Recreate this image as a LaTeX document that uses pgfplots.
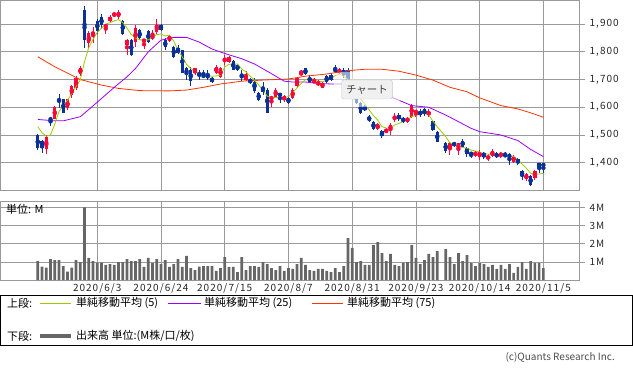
\documentclass[border=0pt]{standalone}
\usepackage{fontspec}
\setmainfont{Noto Sans CJK JP}
\newfontfamily\tickfont[LetterSpace=10]{Noto Sans CJK JP}
\usepackage{pgfplots}
\pgfplotsset{compat=1.18}
\usepackage{pgfplotstable}
\definecolor{upred}{HTML}{F50A3C}
\definecolor{dnblue}{HTML}{0A3296}
\definecolor{maA}{HTML}{99CC00}
\definecolor{maB}{HTML}{9900FF}
\definecolor{maC}{HTML}{FF3300}
\definecolor{gridc}{HTML}{999999}
\definecolor{volc}{HTML}{666666}
\newcommand{\dsl}{\kern1.1pt/\kern1.1pt}

\pgfplotstableread{
i o h l c
2 1449 1500 1432 1494
4 1558 1604 1556 1602
7 1596 1631 1590 1629
8 1644 1680 1634 1676
9 1671 1712 1662 1706
10 1720 1750 1712 1742
12 1830 1874 1812 1869
13 1861 1888 1833 1872
16 1890 1902 1866 1896
17 1911 1932 1904 1926
18 1929 1945 1925 1938
19 1926 1950 1920 1944
21 1824 1845 1788 1844
23 1837 1898 1818 1887
25 1838 1845 1810 1843
27 1850 1880 1844 1857
28 1872 1917 1865 1896
31 1840 1862 1834 1858
37 1724 1743 1715 1740
42 1724 1752 1719 1746
43 1710 1745 1707 1740
44 1770 1788 1752 1774
45 1764 1784 1758 1782
49 1698 1731 1695 1712
55 1628 1640 1602 1638
56 1635 1671 1632 1664
58 1626 1644 1620 1640
60 1632 1668 1628 1664
61 1676 1710 1671 1704
62 1719 1736 1716 1724
65 1688 1704 1686 1698
66 1680 1698 1676 1692
67 1671 1692 1668 1688
71 1724 1740 1719 1736
80 1520 1542 1518 1539
82 1510 1524 1506 1520
83 1518 1542 1500 1536
84 1554 1578 1548 1568
87 1548 1566 1542 1563
88 1566 1611 1563 1608
89 1580 1590 1565 1587
92 1572 1592 1566 1584
97 1448 1476 1428 1472
99 1448 1472 1428 1470
103 1425 1442 1422 1440
104 1422 1445 1410 1438
106 1416 1431 1407 1422
107 1424 1449 1419 1443
109 1428 1440 1416 1431
112 1404 1428 1400 1422
115 1340 1362 1335 1359
117 1344 1374 1338 1371
}\up

\pgfplotstableread{
i o h l c
0 1500 1502 1446 1452
1 1478 1482 1436 1454
3 1560 1566 1532 1554
5 1628 1647 1599 1624
6 1628 1630 1578 1580
11 1952 1964 1812 1844
14 1911 1920 1866 1875
15 1926 1935 1884 1897
20 1911 1914 1861 1863
22 1844 1846 1785 1788
24 1880 1884 1842 1848
26 1875 1880 1832 1836
29 1897 1900 1874 1878
30 1842 1848 1808 1818
32 1818 1820 1779 1782
33 1812 1824 1791 1794
34 1806 1808 1722 1724
35 1740 1746 1700 1719
36 1734 1746 1677 1695
38 1724 1734 1700 1716
39 1716 1736 1704 1710
40 1716 1733 1700 1707
41 1705 1710 1688 1692
46 1766 1770 1734 1736
47 1752 1755 1731 1734
48 1719 1734 1695 1704
50 1700 1707 1683 1688
51 1692 1707 1652 1659
52 1652 1656 1623 1626
53 1671 1692 1644 1656
54 1664 1668 1580 1580
57 1650 1650 1616 1640
59 1634 1638 1611 1616
63 1740 1742 1716 1719
64 1707 1716 1686 1692
68 1712 1716 1688 1692
69 1716 1722 1695 1698
70 1740 1752 1724 1728
72 1736 1740 1704 1719
73 1736 1740 1690 1700
74 1690 1700 1640 1650
75 1650 1660 1611 1614
76 1614 1620 1575 1578
77 1602 1608 1587 1590
78 1566 1572 1548 1551
79 1548 1551 1518 1520
81 1514 1518 1488 1496
85 1572 1578 1551 1556
86 1560 1566 1544 1548
90 1587 1592 1565 1572
91 1592 1598 1568 1575
93 1551 1554 1515 1518
94 1512 1514 1473 1476
96 1472 1476 1436 1443
98 1470 1476 1458 1464
100 1479 1484 1455 1458
101 1454 1458 1422 1431
102 1440 1440 1416 1425
105 1436 1440 1412 1422
108 1431 1437 1416 1424
110 1431 1440 1419 1422
111 1431 1434 1392 1416
113 1412 1416 1392 1398
114 1371 1374 1338 1352
116 1352 1355 1317 1320
118 1398 1400 1362 1386
119 1398 1400 1362 1386
}\down

\pgfplotstableread{
i p
0 1530
1 1508
2 1496
3 1500
4 1540
5 1585
6 1605
7 1625
8 1650
9 1675
10 1698
11 1765
12 1815
13 1845
14 1870
15 1885
16 1900
17 1905
18 1912
19 1916
20 1905
21 1885
22 1862
23 1850
24 1843
25 1843
26 1843
27 1852
28 1862
29 1864
30 1857
31 1860
32 1838
33 1806
34 1782
35 1755
36 1740
37 1728
38 1720
39 1716
40 1713
41 1712
42 1713
43 1716
44 1745
45 1755
46 1756
47 1756
48 1738
49 1728
50 1712
51 1698
52 1680
53 1662
54 1640
55 1636
56 1635
57 1634
58 1636
59 1638
60 1652
61 1670
62 1686
63 1700
64 1704
65 1701
66 1694
67 1692
68 1698
69 1705
70 1714
71 1720
72 1712
73 1700
74 1685
75 1660
76 1630
77 1610
78 1590
79 1570
80 1554
81 1530
82 1525
83 1526
84 1536
85 1542
86 1548
87 1555
88 1566
89 1572
90 1576
91 1578
92 1572
93 1550
94 1530
96 1494
97 1472
98 1465
99 1458
100 1455
101 1452
102 1446
103 1442
104 1438
105 1433
106 1431
107 1430
108 1428
109 1428
110 1427
111 1425
112 1422
113 1410
114 1395
115 1380
116 1362
117 1359
118 1359
119 1362
}\maFive

\pgfplotstableread{
i p
0 1556
4 1551
6 1551
10 1566
13 1605
18 1672
21 1710
23 1740
26 1800
29 1842
32 1852
35 1852
38 1835
41 1810
44 1794
48 1775
51 1756
54 1730
56 1712
58 1694
60 1691
63 1691
66 1686
69 1684
72 1684
77 1668
80 1652
83 1638
88 1606
92 1600
96 1572
99 1548
102 1524
104 1512
109 1500
113 1480
116 1448
119 1422
}\maTwentyFive

\pgfplotstableread{
i p
0 1782
4 1746
10 1700
15 1680
19 1668
24 1660
31 1659
35 1662
39 1672
43 1684
48 1694
53 1698
59 1702
63 1712
68 1720
73 1732
77 1737
81 1737
85 1730
89 1716
93 1698
97 1672
101 1656
104 1634
109 1606
113 1594
116 1580
119 1564
}\maSeventyFive

\pgfplotstableread{
i v
0 1.05
1 0.74
2 0.68
3 1.16
4 1.10
5 1.10
6 0.77
7 0.46
8 0.68
9 1.10
10 0.99
11 4.01
12 1.22
13 1.05
14 0.96
15 0.96
16 0.83
17 0.88
18 0.83
19 0.99
20 0.99
21 1.16
22 1.05
23 1.05
24 1.16
25 0.72
26 1.22
27 0.94
28 1.16
29 0.88
30 1.10
31 0.72
32 0.88
33 1.16
34 0.72
35 1.33
36 0.66
37 0.55
38 0.74
39 0.77
40 0.77
41 0.77
42 0.50
43 0.66
44 1.27
45 0.72
46 0.72
47 0.44
48 1.27
49 0.55
50 0.77
51 0.77
52 0.72
53 0.99
54 0.88
55 0.66
56 0.55
57 0.77
58 0.50
59 0.66
60 0.61
61 0.88
62 1.22
63 0.83
64 0.55
65 0.50
66 0.61
67 0.61
68 0.50
69 0.44
70 0.66
71 0.44
72 0.77
73 2.32
74 1.77
75 0.99
76 1.05
77 0.83
78 0.83
79 1.93
80 2.10
81 1.49
82 1.05
83 1.44
84 0.83
85 0.77
86 0.96
87 0.99
88 1.93
89 1.22
90 0.88
91 1.10
92 1.44
93 1.27
94 1.60
96 1.71
97 1.27
98 0.88
99 1.49
100 1.05
101 1.38
102 0.94
103 0.77
104 0.94
105 0.88
106 0.72
107 0.83
108 0.61
109 0.83
110 0.61
111 0.88
112 0.39
113 0.72
114 0.99
115 0.61
116 1.05
117 0.94
118 0.94
119 0.66
}\vol

\pgfplotsset{
  base/.style={
    scale only axis, width=579pt, xmin=-8.78, xmax=127.5,
    axis line style={draw=gridc, line width=0.75pt},
    grid=major, major grid style={draw=gridc, line width=0.75pt},
    xtick={14,29,44,59,74,89,104,119},
    xtick style={draw=none},
    ytick pos=right, yticklabel pos=right,
    tick align=outside, major tick length=5pt,
    ytick style={draw=gridc, line width=0.75pt},
    tick label style={font=\tickfont\fontsize{10}{10}\selectfont, text=black!85},
    yticklabel style={anchor=west, inner sep=0pt, xshift=5pt},
    /pgf/number format/assume math mode=true,
  },
  wick/.style={color=#1, only marks, mark=none, error bars/.cd, y dir=both, y explicit, error mark=none,
    error bar style={line width=0.9pt, color=#1}},
  body/.style={color=#1, only marks, mark=none, error bars/.cd, y dir=both, y explicit, error mark=none,
    error bar style={line width=3.3pt, color=#1}},
}

\begin{document}
\begin{tikzpicture}[x=1pt,y=1pt]
\useasboundingbox (0,0) rectangle (633,373);

% upper panel
\begin{axis}[base, at={(0.5pt,182.5pt)}, anchor=south west, height=190pt,
  ymin=1299.8, ymax=1985, ytick={1400,1500,1600,1700,1800,1900},
  xticklabels={}, /pgf/number format/1000 sep={,}]
\addplot[wick=upred] table[x=i, y expr={(\thisrow{h}+\thisrow{l})/2}, y error expr={(\thisrow{h}-\thisrow{l})/2}] {\up};
\addplot[wick=dnblue] table[x=i, y expr={(\thisrow{h}+\thisrow{l})/2}, y error expr={(\thisrow{h}-\thisrow{l})/2}] {\down};
\addplot[body=upred] table[x=i, y expr={(\thisrow{o}+\thisrow{c})/2}, y error expr={max(abs(\thisrow{c}-\thisrow{o})/2,1.3)}] {\up};
\addplot[body=dnblue] table[x=i, y expr={(\thisrow{o}+\thisrow{c})/2}, y error expr={max(abs(\thisrow{c}-\thisrow{o})/2,1.3)}] {\down};
\addplot[maC, line width=0.8pt, mark=none] table[x=i,y=p] {\maSeventyFive};
\addplot[maB, line width=0.8pt, mark=none] table[x=i,y=p] {\maTwentyFive};
\addplot[maA, line width=0.8pt, mark=none] table[x=i,y=p] {\maFive};
\end{axis}

% volume panel
\begin{axis}[base, at={(0.5pt,93pt)}, anchor=south west, height=78.3pt,
  ymin=0, ymax=4.33, ytick={1,2,3,4}, yticklabels={1M,2M,3M,4M},
  xticklabels={2020\dsl6\dsl3,2020\dsl6\dsl24,2020\dsl7\dsl15,2020\dsl8\dsl7,2020\dsl8\dsl31,2020\dsl9\dsl23,2020\dsl10\dsl14,2020\dsl11\dsl5},
  xticklabel style={anchor=base, yshift=-6pt}]
\addplot[ybar, bar width=2.7pt, fill=volc, draw=none] table[x=i,y=v] {\vol};
\end{axis}

\node[anchor=west, inner sep=0pt, font=\fontsize{11}{11}\selectfont] at (6,164) {単位: M};

% tooltip
\fill[white, opacity=0.55, rounded corners=8pt] (334,266) rectangle (400,301);
\draw[draw=black!22, fill=black!6, rounded corners=2pt] (341.7,274) rectangle (392.3,293);
\node[font=\fontsize{10.5}{10.5}\selectfont, text=black!75, inner sep=0pt] at (367,283.5) {チャート};

% legend box
\draw[black, line width=0.8pt] (0.5,77.7) rectangle (632.5,27.3);
\begin{scope}[font=\fontsize{11}{11}\selectfont]
\node[anchor=west, inner sep=0pt] at (7,69.7) {上段:};
\draw[maA, line width=0.8pt] (40,69.7) -- (71,69.7);
\node[anchor=west, inner sep=0pt] at (76,69.7) {単純移動平均 (5)};
\draw[maB, line width=0.8pt] (168,69.7) -- (201,69.7);
\node[anchor=west, inner sep=0pt] at (204,69.7) {単純移動平均 (25)};
\draw[maC, line width=0.8pt] (312,69.7) -- (343,69.7);
\node[anchor=west, inner sep=0pt] at (347,69.7) {単純移動平均 (75)};
\node[anchor=west, inner sep=0pt] at (7,37) {下段:};
\draw[volc, line width=3.5pt] (40,37) -- (71,37);
\node[anchor=west, inner sep=0pt] at (76,37) {出来高 単位:(M株/口/枚)};
\end{scope}
\node[anchor=east, inner sep=0pt, font=\fontsize{10}{10}\selectfont, text=black!70] at (615,16) {(c)Quants Research Inc.};
\end{tikzpicture}
\end{document}
